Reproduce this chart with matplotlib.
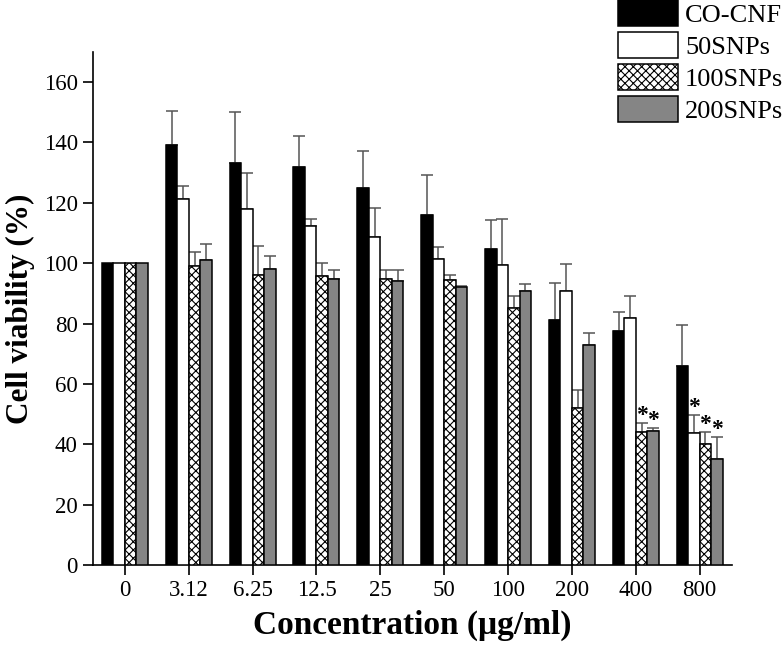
import numpy as np
import matplotlib
matplotlib.use("Agg")
import matplotlib.pyplot as plt
from matplotlib.patches import Patch

# --- Data ---
concentrations = ["0", "3.12", "6.25", "12.5", "25", "50", "100", "200", "400", "800"]
series_names = ["CO-CNF", "50SNPs", "100SNPs", "200SNPs"]

co_cnf = [100, 139.0, 133.3, 132.0, 124.8, 116.0, 104.8, 81.2, 77.5, 66.1]
co_cnf_err = [0, 11.4, 16.8, 10.1, 12.4, 13.2, 9.4, 12.4, 6.3, 13.5]
snp50 = [100, 121.2, 118.0, 112.4, 108.7, 101.3, 99.3, 90.9, 81.8, 43.9]
snp50_err = [0, 4.5, 11.9, 2.3, 9.5, 4.1, 15.3, 8.7, 7.3, 5.8]
snp100 = [100, 99.2, 96.1, 95.6, 94.7, 94.4, 85.3, 52.0, 44.1, 40.0]
snp100_err = [0, 4.4, 9.5, 4.3, 2.9, 1.8, 3.8, 6.0, 3.0, 4.2]
snp200 = [100, 101.1, 98.2, 94.6, 94.1, 92.1, 90.8, 72.9, 44.5, 35.2]
snp200_err = [0, 5.3, 4.1, 3.3, 3.7, 0.4, 2.3, 4.1, 1.0, 7.2]

# significance marks: (group index, series index)
stars = [(8, 2), (8, 3), (9, 1), (9, 2), (9, 3)]

# --- Style ---
plt.rcParams["font.family"] = ["Liberation Serif", "DejaVu Serif"]
plt.rcParams["hatch.linewidth"] = 0.8

values = [co_cnf, snp50, snp100, snp200]
errors = [co_cnf_err, snp50_err, snp100_err, snp200_err]
faces = ["black", "white", "white", "#858585"]
hatches = [None, None, "xxxx", None]

fig = plt.figure(figsize=(7.84, 6.49), dpi=100)
ax = fig.add_axes([0.1186, 0.1294, 0.8145, 0.7906])

x = np.arange(len(concentrations))
width = 0.18
offsets = (np.arange(4) - 1.5) * width

for i in range(4):
    ax.bar(x + offsets[i], values[i], width, color=faces[i], edgecolor="black",
           linewidth=1.1, hatch=hatches[i], zorder=3)
    err = np.array(errors[i])
    mask = err > 0
    ax.errorbar(x[mask] + offsets[i], np.array(values[i])[mask],
                yerr=[np.zeros(mask.sum()), err[mask]], fmt="none",
                ecolor="#555555", elinewidth=1.1, capsize=4, capthick=1.1, zorder=2)

for g, s in stars:
    top = values[s][g] + errors[s][g]
    ax.text(x[g] + offsets[s], top + 2.5, "*", ha="center", va="center",
            fontsize=17, fontweight="bold")

ax.set_xlim(-0.5, 9.5)
ax.set_ylim(0, 170)
ax.set_yticks(np.arange(0, 161, 20))
ax.set_xticks(x)
ax.set_xticklabels(concentrations)
ax.tick_params(axis="both", direction="out", length=7, width=1.2, labelsize=16.5, pad=4)
ax.spines["top"].set_visible(False)
ax.spines["right"].set_visible(False)
for sp in ["left", "bottom"]:
    ax.spines[sp].set_linewidth(1.2)

ax.set_ylabel("Cell viability (%)", fontsize=22.5, fontweight="bold", labelpad=6)
ax.set_xlabel("Concentration (\u03bcg/ml)", fontsize=24, fontweight="bold", labelpad=6)

handles = [Patch(facecolor=faces[i], edgecolor="black", linewidth=1.1, hatch=hatches[i])
           for i in range(4)]
fig.legend(handles, series_names, loc="upper left", bbox_to_anchor=(618 / 784, 1.0),
           frameon=False, fontsize=19, handlelength=2.27, handleheight=1.12,
           handletextpad=0.27, labelspacing=0.2, borderpad=0, borderaxespad=0)

fig.savefig("out.png", dpi=100)
